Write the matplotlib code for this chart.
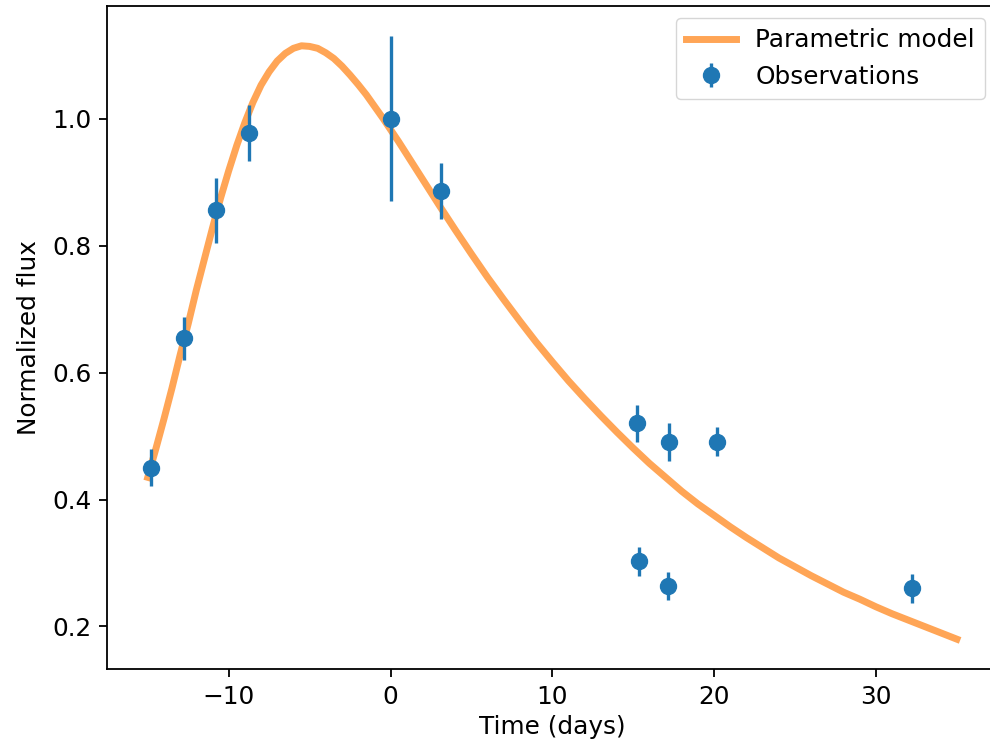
import matplotlib
matplotlib.use("Agg")
import matplotlib.pyplot as plt

# Observations
obs_time = [-14.8, -12.75, -10.8, -8.75, 0.0, 3.1, 15.25, 15.35, 17.2, 17.15, 20.2, 32.25]
obs_flux = [0.450, 0.654, 0.856, 0.977, 1.000, 0.886, 0.520, 0.303, 0.491, 0.264, 0.491, 0.260]
obs_err = [0.029, 0.034, 0.051, 0.044, 0.130, 0.044, 0.029, 0.023, 0.030, 0.022, 0.023, 0.023]

# Parametric model curve (half-day steps around the peak)
model_time = [-15, -14.5, -14, -13.5, -13, -12.5, -12, -11.5, -11, -10.5,
              -10, -9.5, -9, -8.5, -8, -7.5, -7, -6.5, -6, -5.5,
              -5, -4.5, -4, -3.5, -3, -2.5, -2, -1.5, -1, -0.5,
              0, 0.5, 1, 1.5, 2, 3, 4, 5, 6, 7,
              8, 9, 10, 11, 12, 13, 14, 15, 16, 17,
              18, 19, 20, 21, 22, 23, 24, 25, 26, 27,
              28, 29, 30, 31, 32, 33, 34, 35]
model_flux = [0.435, 0.480, 0.527, 0.576, 0.628, 0.677, 0.730, 0.779, 0.828, 0.875,
              0.918, 0.958, 0.994, 1.026, 1.053, 1.074, 1.091, 1.103, 1.111, 1.115,
              1.114, 1.111, 1.104, 1.095, 1.083, 1.069, 1.054, 1.038, 1.020, 1.002,
              0.983, 0.964, 0.944, 0.924, 0.904, 0.864, 0.825, 0.787, 0.750, 0.715,
              0.681, 0.648, 0.617, 0.587, 0.559, 0.532, 0.506, 0.481, 0.457, 0.435,
              0.413, 0.393, 0.375, 0.357, 0.340, 0.324, 0.308, 0.294, 0.280, 0.267,
              0.254, 0.243, 0.231, 0.220, 0.210, 0.200, 0.190, 0.180]

FS = 17.8
plt.rcParams.update({
    "font.family": ["DejaVu Sans"],
    "font.size": FS,
    "axes.linewidth": 1.3,
    "xtick.major.width": 1.3,
    "ytick.major.width": 1.3,
    "xtick.major.size": 5.7,
    "ytick.major.size": 5.7,
    "xtick.major.pad": 5.7,
    "ytick.major.pad": 5.7,
})

fig = plt.figure(figsize=(9.9, 7.46), dpi=100)
ax = fig.add_axes([0.1084, 0.1028, 0.899, 0.889])

ax.plot(model_time, model_flux, color="C1", alpha=0.7, lw=5.0,
        solid_joinstyle="round", label="Parametric model")
ax.errorbar(obs_time, obs_flux, yerr=obs_err, fmt="o", color="C0",
            markersize=11.5, elinewidth=2.4, label="Observations")

ax.set_xlabel("Time (days)", fontsize=FS, labelpad=4)
ax.set_ylabel("Normalized flux", fontsize=FS, labelpad=8)
ax.set_xticks([-10, 0, 10, 20, 30])
ax.set_yticks([0.2, 0.4, 0.6, 0.8, 1.0])
ax.tick_params(labelsize=FS)
ax.spines["right"].set_visible(False)

ax.legend(loc="upper right", fontsize=FS, framealpha=0.8)

fig.savefig("out.png", dpi=100)
